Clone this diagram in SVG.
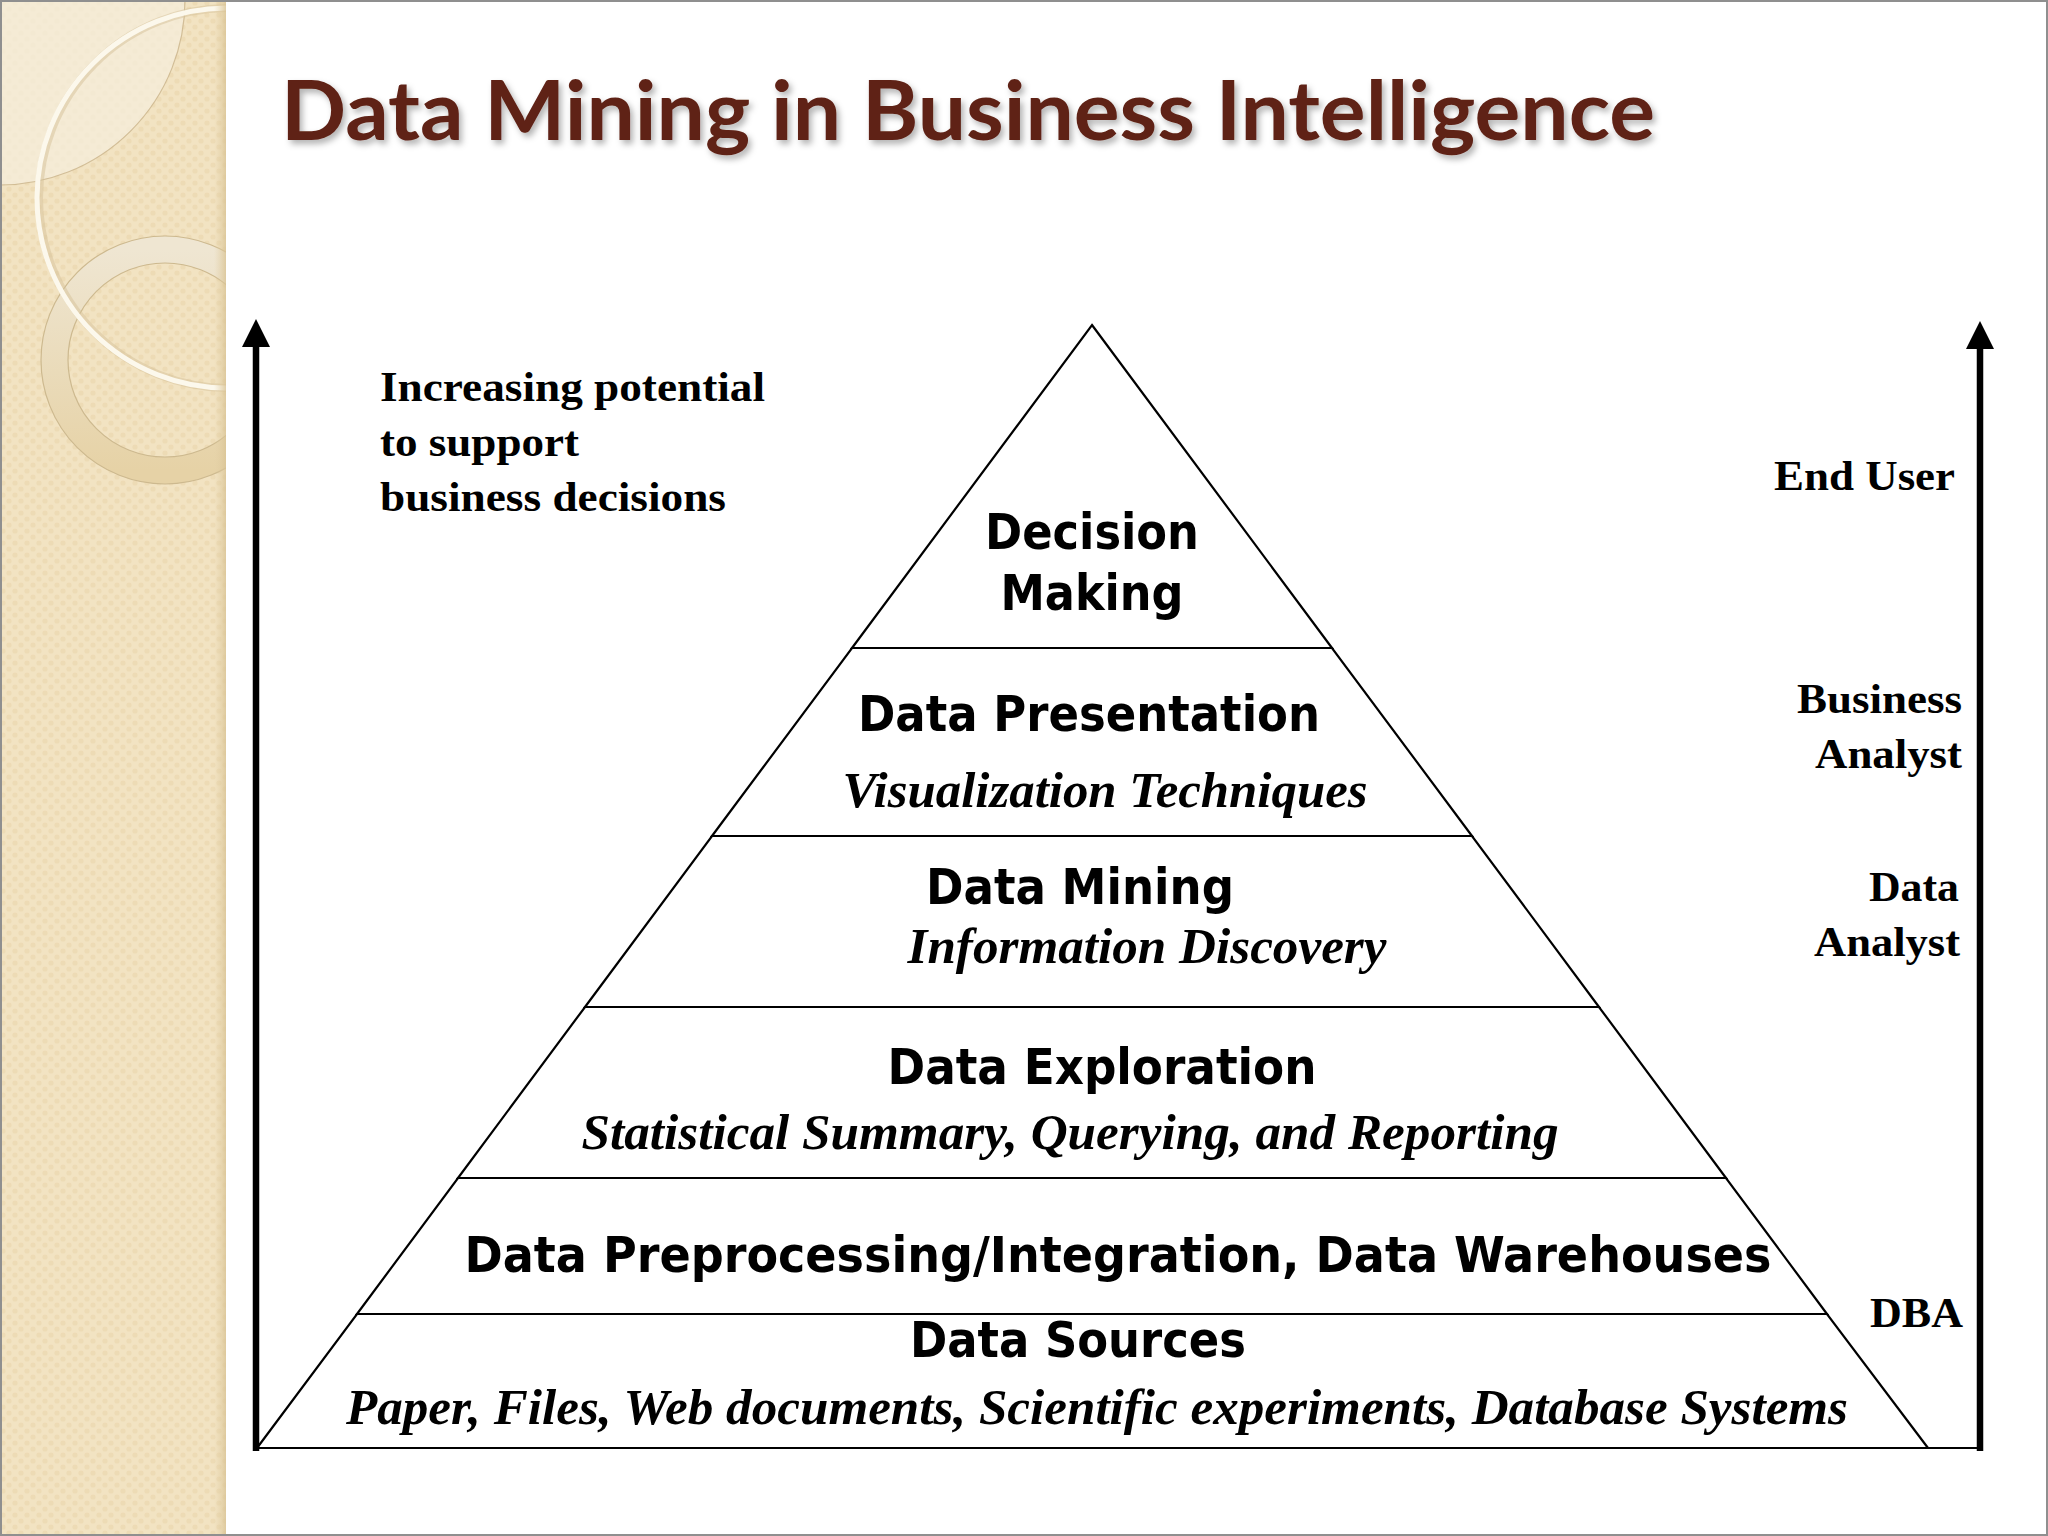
<svg xmlns="http://www.w3.org/2000/svg" width="2048" height="1536" viewBox="0 0 2048 1536">
  <defs>
    <style>
      .title { font-family: "Lato", "Open Sans", "Liberation Sans", sans-serif; font-weight: bold; font-size: 82px; fill: #5E2216; }
      .hb { font-family: "DejaVu Sans Condensed", "DejaVu Sans", "Liberation Sans", sans-serif; font-stretch: condensed; font-weight: bold; font-size: 50px; fill: #000; text-anchor: middle; }
      .it { font-family: "Liberation Serif", serif; font-style: italic; font-weight: bold; font-size: 50px; fill: #000; text-anchor: middle; }
      .sb { font-family: "Liberation Serif", serif; font-weight: bold; font-size: 43px; fill: #000; }
      .layer { fill: #fff; stroke: #000; stroke-width: 2.2; stroke-linejoin: miter; }
      .arrow { stroke: #000; stroke-width: 6.5; fill: none; }
    </style>
    <marker id="head" markerUnits="userSpaceOnUse" markerWidth="28" markerHeight="28" viewBox="0 0 26 26" refX="0" refY="13" orient="auto">
      <path d="M0,0 L26,13 L0,26 z" fill="#000"/>
    </marker>
    <pattern id="dots" width="12" height="12" patternUnits="userSpaceOnUse">
      <rect width="12" height="12" fill="#F2E3C2"/>
      <circle cx="3" cy="3" r="2.6" fill="#EBD8B0" opacity="0.7"/>
      <circle cx="9" cy="9" r="2.6" fill="#EBD8B0" opacity="0.7"/>
    </pattern>
    <linearGradient id="ringGrad" x1="0" y1="0" x2="0" y2="1">
      <stop offset="0" stop-color="#EFE6D2"/>
      <stop offset="1" stop-color="#E6D2A6"/>
    </linearGradient>
    <linearGradient id="edgeShade" x1="0" y1="0" x2="1" y2="0">
      <stop offset="0" stop-color="#E2CFA6" stop-opacity="0"/>
      <stop offset="1" stop-color="#D9C394" stop-opacity="0.8"/>
    </linearGradient>
    <clipPath id="sideClip">
      <rect x="0" y="0" width="226" height="1536"/>
    </clipPath>
    <filter id="shadow" x="-5%" y="-20%" width="110%" height="150%">
      <feDropShadow dx="3" dy="4" stdDeviation="3" flood-color="#000" flood-opacity="0.3"/>
    </filter>
  </defs>

  <!-- background -->
  <rect x="0" y="0" width="2048" height="1536" fill="#fff"/>

  <!-- sidebar -->
  <g id="sidebar" clip-path="url(#sideClip)">
    <rect x="0" y="0" width="226" height="1536" fill="url(#dots)"/>
    <circle cx="0" cy="0" r="185" fill="#F6EEDC" opacity="0.75" stroke="#C8B28A" stroke-width="1.2"/>
    <circle cx="165" cy="360" r="110.5" fill="none" stroke="url(#ringGrad)" stroke-width="27"/>
    <circle cx="165" cy="360" r="124" fill="none" stroke="#CDB98F" stroke-width="1.2"/>
    <circle cx="165" cy="360" r="97" fill="none" stroke="#CDB98F" stroke-width="1.2"/>
    <circle cx="229" cy="198" r="190" fill="none" stroke="#D6C29A" stroke-width="8" opacity="0.5"/>
    <circle cx="227" cy="198" r="190" fill="none" stroke="#FCF8EC" stroke-width="5"/>
    <rect x="214" y="0" width="12" height="1536" fill="url(#edgeShade)"/>
  </g>

  <!-- frame -->
  <rect x="1" y="1" width="2046" height="1534" fill="none" stroke="#8F8F8F" stroke-width="2"/>

  <!-- title -->
  <g id="title">
    <text class="title" x="281" y="140" textLength="1374" lengthAdjust="spacingAndGlyphs" filter="url(#shadow)">Data Mining in Business Intelligence</text>
  </g>

  <!-- pyramid layers -->
  <g id="layer-decision">
    <polygon class="layer" points="1092,325 1332,648 852,648"/>
    <text class="hb" x="1092" y="549" textLength="214" lengthAdjust="spacingAndGlyphs">Decision</text>
    <text class="hb" x="1092" y="610" textLength="183" lengthAdjust="spacingAndGlyphs">Making</text>
  </g>
  <g id="layer-presentation">
    <polygon class="layer" points="852,648 1332,648 1472,836 712,836"/>
    <text class="hb" x="1089" y="731" textLength="462" lengthAdjust="spacingAndGlyphs">Data Presentation</text>
    <text class="it" x="1105" y="807" textLength="525" lengthAdjust="spacingAndGlyphs">Visualization Techniques</text>
  </g>
  <g id="layer-mining">
    <polygon class="layer" points="712,836 1472,836 1599,1007 585,1007"/>
    <text class="hb" x="1080" y="904" textLength="308" lengthAdjust="spacingAndGlyphs">Data Mining</text>
    <text class="it" x="1147" y="963" textLength="479" lengthAdjust="spacingAndGlyphs">Information Discovery</text>
  </g>
  <g id="layer-exploration">
    <polygon class="layer" points="585,1007 1599,1007 1726,1178 458,1178"/>
    <text class="hb" x="1102" y="1084" textLength="429" lengthAdjust="spacingAndGlyphs">Data Exploration</text>
    <text class="it" x="1070" y="1149" textLength="977" lengthAdjust="spacingAndGlyphs">Statistical Summary, Querying, and Reporting</text>
  </g>
  <g id="layer-preprocessing">
    <polygon class="layer" points="458,1178 1726,1178 1827,1314 357,1314"/>
    <text class="hb" x="1118" y="1272" textLength="1307" lengthAdjust="spacingAndGlyphs">Data Preprocessing/Integration, Data Warehouses</text>
  </g>
  <g id="layer-sources">
    <polygon class="layer" points="357,1314 1827,1314 1928,1448 257,1448" stroke-width="2.6"/>
    <text class="hb" x="1078" y="1357" textLength="336" lengthAdjust="spacingAndGlyphs">Data Sources</text>
    <text class="it" x="1097" y="1424" textLength="1502" lengthAdjust="spacingAndGlyphs">Paper, Files, Web documents, Scientific experiments, Database Systems</text>
  </g>

  <!-- connectors / axes -->
  <g id="connectors">
    <line class="arrow" x1="256" y1="1451" x2="256" y2="347" marker-end="url(#head)"/>
    <line class="arrow" x1="1980" y1="1451" x2="1980" y2="349" marker-end="url(#head)"/>
    <line x1="1928" y1="1448" x2="1980" y2="1448" stroke="#000" stroke-width="2"/>
  </g>

  <!-- left label -->
  <g id="label-potential">
    <text class="sb" x="380" y="401" textLength="385" lengthAdjust="spacingAndGlyphs">Increasing potential</text>
    <text class="sb" x="380" y="456" textLength="199" lengthAdjust="spacingAndGlyphs">to support</text>
    <text class="sb" x="380" y="511" textLength="346" lengthAdjust="spacingAndGlyphs">business decisions</text>
  </g>

  <!-- right labels -->
  <g id="label-enduser">
    <text class="sb" x="1774" y="490" textLength="181" lengthAdjust="spacingAndGlyphs">End User</text>
  </g>
  <g id="label-business-analyst">
    <text class="sb" x="1797" y="713" textLength="165" lengthAdjust="spacingAndGlyphs">Business</text>
    <text class="sb" x="1815" y="768" textLength="147" lengthAdjust="spacingAndGlyphs">Analyst</text>
  </g>
  <g id="label-data-analyst">
    <text class="sb" x="1869" y="901" textLength="90" lengthAdjust="spacingAndGlyphs">Data</text>
    <text class="sb" x="1814" y="956" textLength="146" lengthAdjust="spacingAndGlyphs">Analyst</text>
  </g>
  <g id="label-dba">
    <text class="sb" x="1870" y="1327" textLength="93" lengthAdjust="spacingAndGlyphs">DBA</text>
  </g>
</svg>
